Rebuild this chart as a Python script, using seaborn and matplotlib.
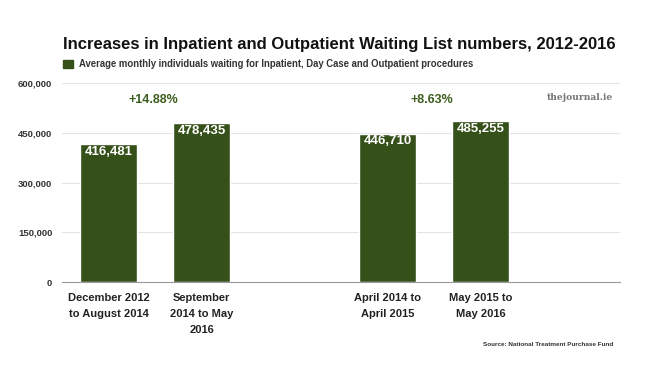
import numpy as np
import pandas as pd
import seaborn as sns
import matplotlib.pyplot as plt

# Data (blank slots keep the gaps seen in the original chart)
periods = ["December 2012\nto August 2014", "September\n2014 to May\n2016", " ",
           "April 2014 to\nApril 2015", "May 2015 to\nMay 2016", "  "]
waiting = [416481, 478435, np.nan, 446710, 485255, np.nan]
changes = ["+14.88%", "+8.63%"]
change_pos = [0.5, 3.5]  # between each pair of bars
y_ticks = [0, 150000, 300000, 450000, 600000]

df = pd.DataFrame({"period": periods, "waiting": waiting})

bar_color = "#36501a"

sns.set_style("white")
plt.rcParams["font.family"] = ["Liberation Sans", "DejaVu Sans"]

fig = plt.figure(figsize=(6.5, 3.79), dpi=100)
ax = fig.add_axes([62 / 650, 1 - 282 / 379, 558 / 650, 199 / 379])

sns.barplot(data=df, x="period", y="waiting", order=periods, color=bar_color,
            width=0.61, saturation=1, ax=ax)

ax.set_xlim(-0.5, 5.5)
ax.set_ylim(0, 600000)
ax.set_yticks(y_ticks)
ax.set_yticklabels([f"{v:,}" for v in y_ticks], fontsize=6.8, fontweight="bold", color="#333333")
ax.tick_params(axis="y", length=0, pad=7)
ax.tick_params(axis="x", length=0, pad=8)
for lbl in ax.get_xticklabels():
    lbl.set_fontsize(8)
    lbl.set_fontweight("bold")
    lbl.set_color("#222222")
    lbl.set_linespacing(1.75)
ax.set_xlabel("")
ax.set_ylabel("")
ax.grid(axis="y", color="#e4e4e4", linewidth=0.8)
ax.set_axisbelow(True)
for side in ["top", "right", "left"]:
    ax.spines[side].set_visible(False)
ax.spines["bottom"].set_color("#999999")
ax.spines["bottom"].set_linewidth(0.8)

# value labels inside the bars
for i, v in enumerate(waiting):
    if not np.isnan(v):
        ax.text(i, v - 5000, f"{int(v):,}", ha="center", va="top", color="white",
                fontsize=9.5, fontweight="bold")

# percent changes
for x, txt in zip(change_pos, changes):
    ax.text(x - 0.02, 549000, txt, ha="center", va="center", color="#3d5e1e",
            fontsize=9, fontweight="bold")

# title, legend, watermark, source
fig.text(63 / 650, 1 - 45 / 379, "Increases in Inpatient and Outpatient Waiting List numbers, 2012-2016",
         fontsize=12, fontweight="bold", color="#111111", va="center")
fig.patches.append(plt.Rectangle((63 / 650, 1 - 68 / 379), 10 / 650, 8 / 379,
                                 transform=fig.transFigure, color=bar_color, figure=fig))
fig.text(79 / 650, 1 - 64 / 379,
         "Average monthly individuals waiting for Inpatient, Day Case and Outpatient procedures",
         fontsize=6.85, fontweight="bold", color="#333333", va="center")
fig.text(613 / 650, 1 - 97 / 379, "thejournal.ie", fontsize=6.6, color="#777777",
         family="DejaVu Serif", ha="right", va="center", fontweight="bold")
fig.text(613 / 650, 1 - 345 / 379, "Source: National Treatment Purchase Fund",
         fontsize=4.6, fontweight="bold", color="#333333", ha="right", va="center")

plt.savefig("out.png", dpi=100)
